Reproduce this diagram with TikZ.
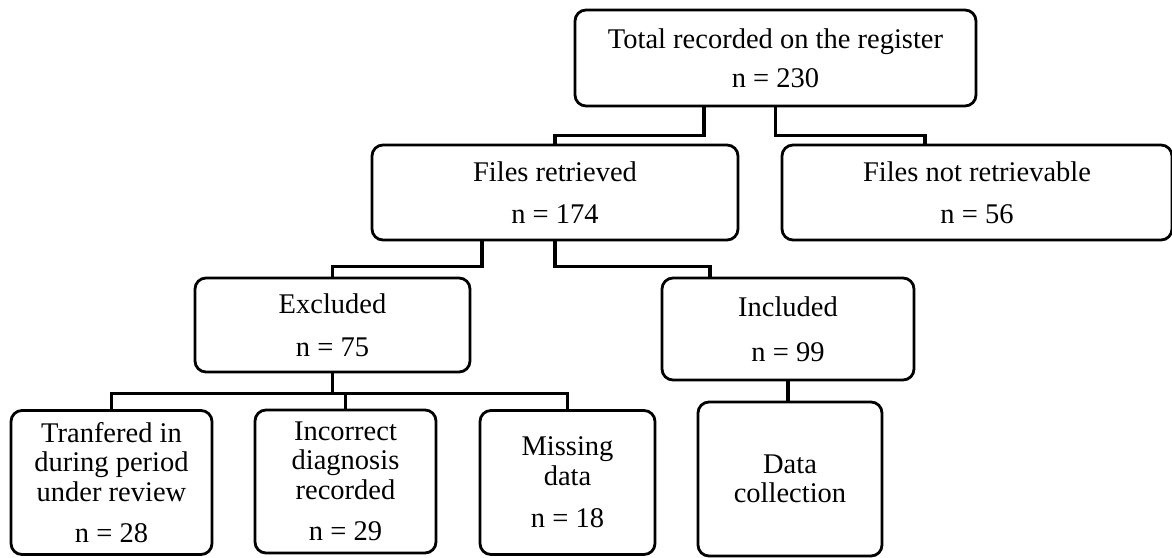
\documentclass[tikz,border=0pt]{standalone}
\usepackage{fontspec}
\setmainfont{Liberation Serif}
\begin{document}
\begin{tikzpicture}[x=1pt,y=-1pt,
  box/.style={draw=black, line width=2.8pt, rounded corners=11pt, fill=white,
    inner sep=0pt, align=center, font=\fontsize{28.5}{29.5}\selectfont},
  conn/.style={draw=black, line width=3.6pt}]
\useasboundingbox (0,0) rectangle (1172,557);
% boxes: centre and size from the pixel extents
\node[box, minimum width=401pt, minimum height=96pt] (total) at (775.5,58) {Total recorded on the register\\[10pt]n = 230};
\node[box, minimum width=366pt, minimum height=95pt] (fr) at (555,192.5) {Files retrieved\\[13pt]n = 174};
\node[box, minimum width=390pt, minimum height=95pt] (fnr) at (977,192.5) {Files not retrievable\\[13pt]n = 56};
\node[box, minimum width=275pt, minimum height=94pt] (exc) at (332.5,325) {Excluded\\[14pt]n = 75};
\node[box, minimum width=252pt, minimum height=102pt] (inc) at (788,329) {Included\\[15pt]n = 99};
\node[box, minimum width=201pt, minimum height=144pt] (tr) at (111.5,482.5) {Tranfered in\\during period\\under review\\[12pt]n = 28};
\node[box, minimum width=181pt, minimum height=143pt] (ic) at (345.5,481.5) {Incorrect\\diagnosis\\recorded\\[12pt]n = 29};
\node[box, minimum width=175pt, minimum height=144pt] (md) at (567.5,482.5) {Missing\\data\\[13pt]n = 18};
\node[box, minimum width=184pt, minimum height=154pt] (dc) at (790,479) {Data\\collection};
% connectors
\coordinate (j1) at ([xshift=-71.5pt]total.south);
\draw[conn] (j1) |- ([yshift=8pt]fr.north) -- (fr.north);
\draw[conn] (total.south) |- ([yshift=8pt]fnr.north -| 925,0) -- (fnr.north -| 925,0);
\coordinate (j2) at ([xshift=-73pt]fr.south);
\draw[conn] (j2) |- ([yshift=10pt]exc.north) -- (exc.north);
\draw[conn] (fr.south) |- ([yshift=10pt]inc.north -| 710,0) -- (inc.north -| 710,0);
\coordinate (j3) at ([yshift=-20pt]exc.south);
\draw[conn] (exc.south) -- (j3);
\draw[conn] (j3) -| (tr.north);
\draw[conn] (j3) -| (md.north);
\draw[conn] (j3 -| ic.north) -- (ic.north);
\draw[conn] (inc.south) -- (inc.south |- dc.north);
\end{tikzpicture}
\end{document}
